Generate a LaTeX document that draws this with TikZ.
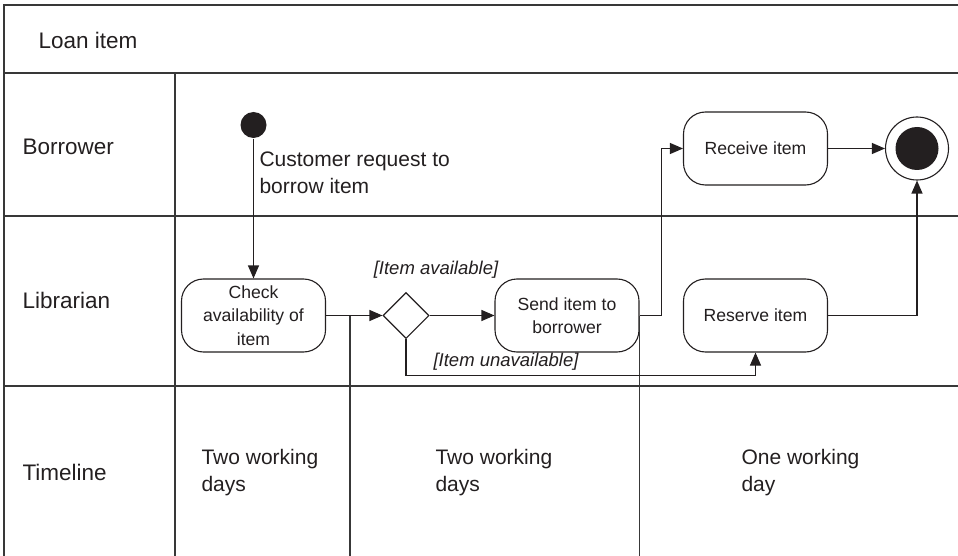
\documentclass[tikz,border=0pt]{standalone}
\usepackage{fontspec}
\setmainfont{Liberation Sans}
\usetikzlibrary{arrows.meta,shapes.geometric}
\definecolor{ink}{HTML}{231F20}
\begin{document}
\begin{tikzpicture}[x = 1pt, y = -1pt, line width = 1.1pt, color = ink,
    frame/.style = {line width = 1.4pt, draw = black!78},
    lane/.style = {anchor = west, inner sep = 0pt, font = \fontsize{22.5}{27}\selectfont},
    note/.style = {align = left, anchor = west, inner sep = 0pt, font = \fontsize{21}{27}\selectfont},
    activity/.style = {draw, fill = white, rounded corners = 22pt, minimum width = 144pt,
                       minimum height = 73pt, align = center, inner sep = 2pt,
                       font = \fontsize{17.6}{23.5}\selectfont},
    guard/.style = {inner sep = 0pt, font = \fontsize{18.5}{22}\selectfont\itshape},
    flow/.style = {-{Triangle[length = 13pt, width = 11pt]}}]
      \useasboundingbox (0,0) rectangle (958,556);
      \draw [frame] (958,5) -- (4,5) -- (4,556);
      \draw [frame] (4,73) -- (958,73);
      \draw [frame] (4,216) -- (958,216);
      \draw [frame] (4,386) -- (958,386);
      \draw [frame] (175,73) -- (175,556);
      \node [lane] (title) at (38,40) {Loan item};
      \node [lane] (borrower) at (22,147) {Borrower};
      \node [lane] (librarian) at (22,300) {Librarian};
      \node [lane] (timeline) at (22,472) {Timeline};
      \node [circle, fill = ink, minimum size = 26pt, inner sep = 0pt] (start) at (253.5,125) {};
      \node [note] (request) at (259,173) {Customer request to\\borrow item};
      \node [activity] (check) at (253.5,315.5) {Check\\availability of\\item};
      \node [diamond, draw, fill = white, minimum width = 46pt, minimum height = 46pt,
             inner sep = 0pt] (decision) at (406,315.5) {};
      \node [activity] (send) at (567,315.5) {Send item to\\borrower};
      \node [activity] (reserve) at (755.5,315.5) {Reserve item};
      \node [activity] (receive) at (755.5,148.5) {Receive item};
      \node [circle, draw, minimum size = 63pt, inner sep = 0pt] (final) at (917,148.5) {};
      \node [circle, fill = ink, minimum size = 43pt, inner sep = 0pt] (finaldot) at (final) {};
      \node [guard] (avail) at (436,270) {[Item available]};
      \node [guard, anchor = west] (unavail) at (433,362) {[Item unavailable]};
      \draw [frame] (350,316) -- (350,556);
      \draw [frame] (send.east) -- (send.east |- 0,556);
      \draw [flow] (start) -- (check);
      \draw [flow] (check) -- (decision);
      \draw [flow] (decision) -- (send);
      \draw [flow] (decision.south) -- ++(0,36) -| (reserve.south);
      \draw [flow] (send.east) -- ++(22,0) |- (receive.west);
      \draw [flow] (receive) -- (final);
      \draw [flow] (reserve.east) -| (final.south);
      \node [note] (days1) at (201,473) {Two working\\days};
      \node [note] (days2) at (435,473) {Two working\\days};
      \node [note] (days3) at (741,473) {One working\\day};
    \end{tikzpicture}
\end{document}
